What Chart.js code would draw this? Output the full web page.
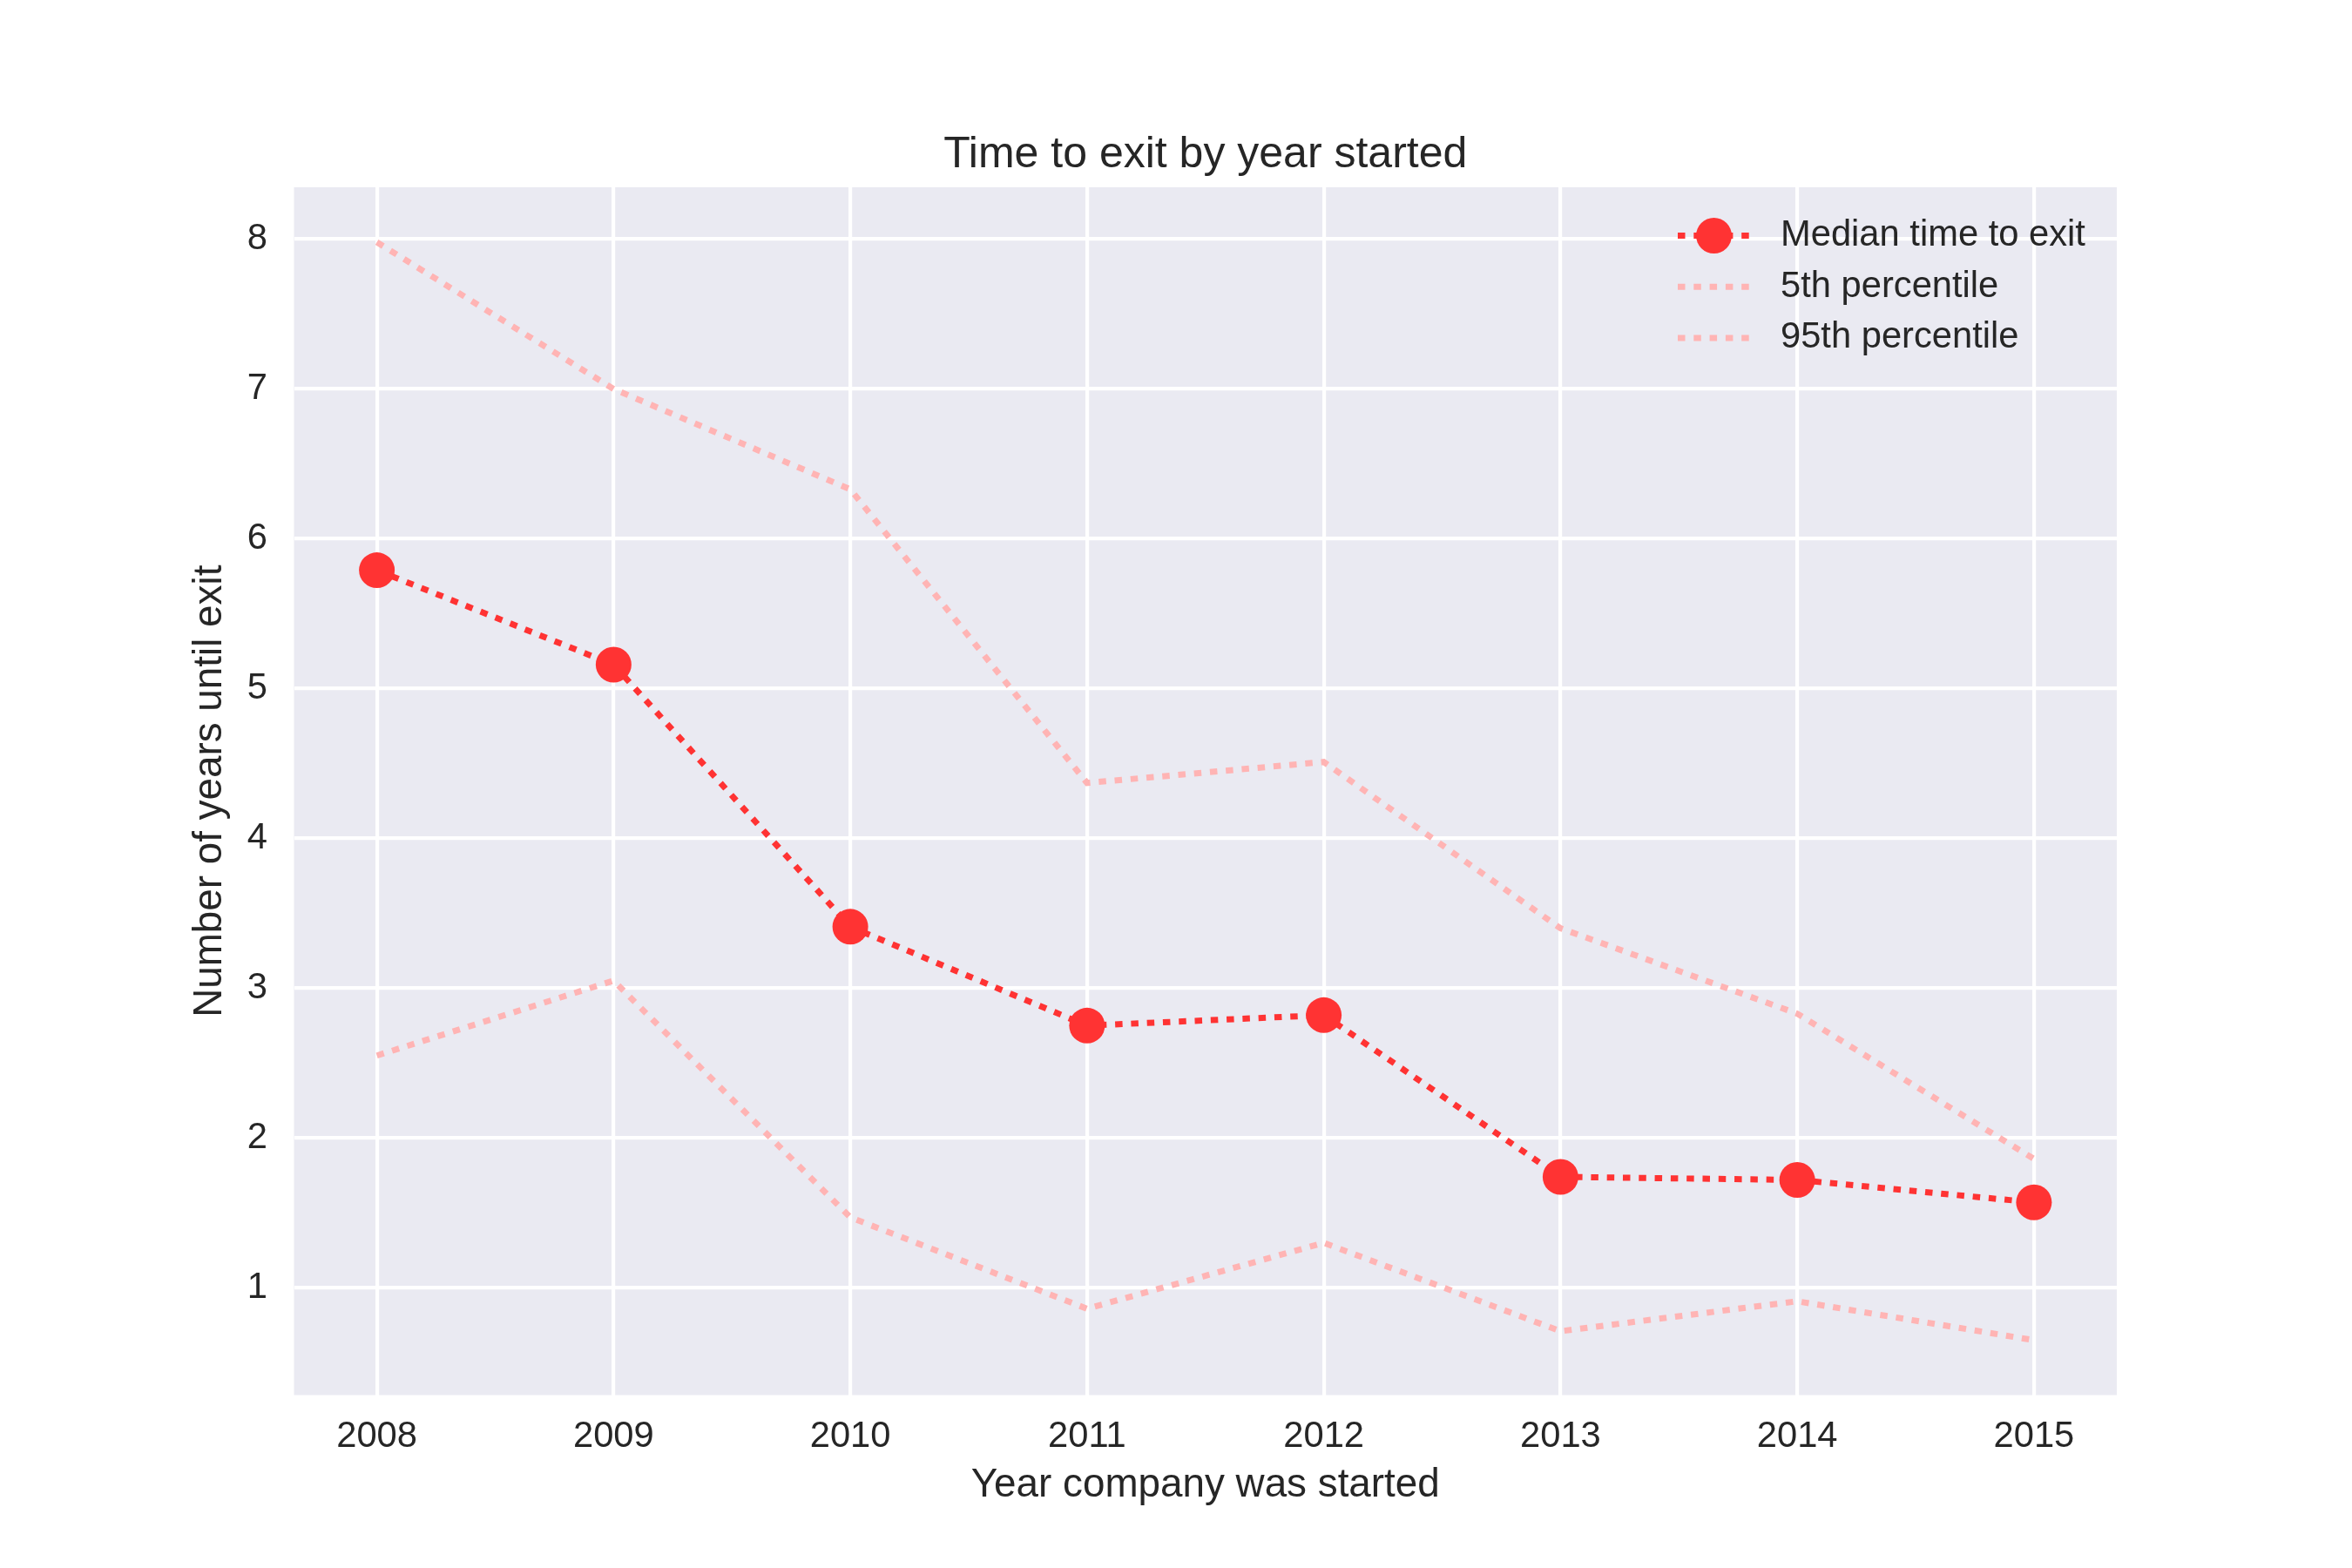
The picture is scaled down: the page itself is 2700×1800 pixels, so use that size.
<!DOCTYPE html>
<html>
<head>
<meta charset="utf-8">
<script src="https://cdn.jsdelivr.net/npm/chart.js@4.4.0/dist/chart.umd.min.js"></script>
<style>
html,body{margin:0;padding:0;background:#ffffff;}
canvas{display:block;}
</style>
</head>
<body>
<canvas id="c" width="2700" height="1800"></canvas>
<script>
// ---- data ----
const years = [2008, 2009, 2010, 2011, 2012, 2013, 2014, 2015];
const medianTime = [5.79, 5.16, 3.41, 2.75, 2.82, 1.74, 1.72, 1.57];
const pct5 = [2.55, 3.05, 1.47, 0.86, 1.30, 0.71, 0.91, 0.65];
const pct95 = [7.98, 7.00, 6.33, 4.37, 4.51, 3.40, 2.83, 1.86];
const yTickValues = [1, 2, 3, 4, 5, 6, 7, 8];
const xTickValues = years;
const seriesLabels = ['Median time to exit', '5th percentile', '95th percentile'];
const chartTitle = 'Time to exit by year started';
const xTitle = 'Year company was started';
const yTitle = 'Number of years until exit';

// ---- style ----
const FONT = '"Liberation Sans", Arial, sans-serif';
const TEXT = '#262626';
const RED = '#FF3333';
const PINK = '#FFB4B4';
Chart.defaults.font.family = FONT;

const toXY = arr => years.map((y, i) => ({x: y, y: arr[i]}));

// axis ranges with matplotlib-like 5% margins
const allVals = medianTime.concat(pct5, pct95);
const lo = Math.min(...allVals), hi = Math.max(...allVals);
const yPad = 0.05 * (hi - lo);
const xPad = 0.05 * (years[years.length - 1] - years[0]);

const bgPlugin = {
  id: 'plotBg',
  beforeDraw(chart) {
    const {ctx, chartArea: a} = chart;
    ctx.save();
    ctx.fillStyle = '#EAEAF2';
    ctx.fillRect(a.left, a.top, a.right - a.left, a.bottom - a.top);
    ctx.restore();
  }
};

const titlePlugin = {
  id: 'topTitle',
  afterDraw(chart) {
    const {ctx, chartArea: a} = chart;
    ctx.save();
    ctx.fillStyle = TEXT;
    ctx.font = '50px ' + FONT;
    ctx.textAlign = 'center';
    ctx.textBaseline = 'alphabetic';
    ctx.fillText(chartTitle, (a.left + a.right) / 2, a.top - 23.3);
    ctx.restore();
  }
};

const legendPlugin = {
  id: 'innerLegend',
  afterDraw(chart) {
    const {ctx, chartArea: a} = chart;
    const x0 = a.right - 504, x1 = x0 + 83, tx = x0 + 118;
    let y = a.top + 55.5;
    chart.data.datasets.forEach(ds => {
      ctx.save();
      ctx.strokeStyle = ds.borderColor;
      ctx.lineWidth = ds.borderWidth;
      ctx.lineCap = 'butt';
      ctx.setLineDash(ds.borderDash || []);
      ctx.beginPath();
      ctx.moveTo(x0, y);
      ctx.lineTo(x1, y);
      ctx.stroke();
      if (ds.pointRadius > 0) {
        ctx.setLineDash([]);
        ctx.fillStyle = ds.pointBackgroundColor;
        ctx.beginPath();
        ctx.arc((x0 + x1) / 2, y, ds.pointRadius, 0, Math.PI * 2);
        ctx.fill();
      }
      ctx.fillStyle = TEXT;
      ctx.font = '41.7px ' + FONT;
      ctx.textBaseline = 'middle';
      ctx.textAlign = 'left';
      ctx.fillText(ds.label, tx, y);
      ctx.restore();
      y += 58.7;
    });
  }
};

new Chart(document.getElementById('c'), {
  type: 'line',
  data: {
    datasets: [
      {
        label: seriesLabels[0], data: toXY(medianTime),
        borderColor: RED, backgroundColor: RED, borderWidth: 7,
        borderDash: [8.5, 9.8], borderCapStyle: 'butt',
        pointRadius: 20.5, pointHoverRadius: 20.5, pointBackgroundColor: RED,
        pointBorderWidth: 0, tension: 0, fill: false, order: 3
      },
      {
        label: seriesLabels[1], data: toXY(pct5),
        borderColor: PINK, backgroundColor: PINK, borderWidth: 7,
        borderDash: [8.5, 9.8], borderCapStyle: 'butt',
        pointRadius: 0, pointHoverRadius: 0, tension: 0, fill: false, order: 2
      },
      {
        label: seriesLabels[2], data: toXY(pct95),
        borderColor: PINK, backgroundColor: PINK, borderWidth: 7,
        borderDash: [8.5, 9.8], borderCapStyle: 'butt',
        pointRadius: 0, pointHoverRadius: 0, tension: 0, fill: false, order: 1
      }
    ]
  },
  options: {
    responsive: false,
    devicePixelRatio: 1,
    animation: false,
    events: [],
    layout: {padding: {left: 0, right: 270, top: 215, bottom: 0}},
    plugins: {
      legend: {display: false},
      tooltip: {enabled: false},
      title: {display: false}
    },
    scales: {
      x: {
        type: 'linear',
        min: years[0] - xPad,
        max: years[years.length - 1] + xPad,
        afterBuildTicks: s => { s.ticks = xTickValues.map(v => ({value: v})); },
        afterFit: s => { s.height = 198.5; },
        ticks: {
          callback: v => String(v), color: TEXT,
          font: {size: 41.7, family: FONT}, padding: 22.5,
          maxRotation: 0, autoSkip: false
        },
        grid: {color: '#FFFFFF', lineWidth: 4.2, drawTicks: false},
        border: {display: false},
        title: {
          display: true, text: xTitle, color: TEXT,
          font: {size: 45.8, family: FONT}, padding: {top: 0, bottom: 67}
        }
      },
      y: {
        type: 'linear',
        min: lo - yPad,
        max: hi + yPad,
        afterBuildTicks: s => { s.ticks = yTickValues.map(v => ({value: v})); },
        afterFit: s => { s.width = 337.5; },
        ticks: {
          callback: v => String(v), color: TEXT,
          font: {size: 41.7, family: FONT}, padding: 30.5
        },
        grid: {color: '#FFFFFF', lineWidth: 4.2, drawTicks: false},
        border: {display: false},
        title: {
          display: true, text: yTitle, color: TEXT,
          font: {size: 45.8, family: FONT}, padding: {top: 214, bottom: 0}
        }
      }
    }
  },
  plugins: [bgPlugin, titlePlugin, legendPlugin]
});
</script>
</body>
</html>
